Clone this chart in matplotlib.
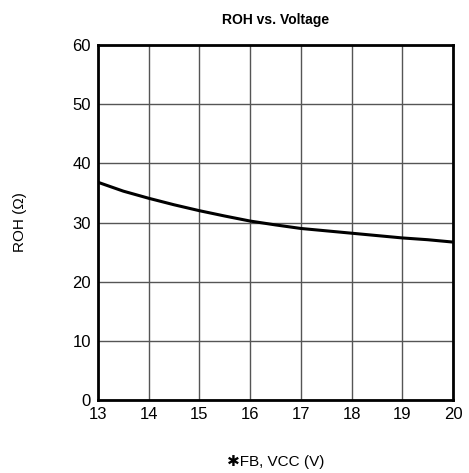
import numpy as np
import matplotlib
matplotlib.use("Agg")
import matplotlib.pyplot as plt

plt.rcParams['font.family'] = ['Liberation Sans', 'DejaVu Sans']

# curve
voltage = [13, 13.5, 14, 14.5, 15, 15.5, 16, 16.5, 17, 17.5, 18, 18.5, 19, 19.5, 20]
roh = [36.8, 35.3, 34.1, 33.0, 32.0, 31.1, 30.25, 29.6, 29.0, 28.6, 28.2, 27.8, 27.4, 27.1, 26.7]

xticks = [13, 14, 15, 16, 17, 18, 19, 20]
yticks = [0, 10, 20, 30, 40, 50, 60]

fig = plt.figure(figsize=(4.69, 4.73), dpi=100)
ax = fig.add_axes([0.209, 0.154, 0.757, 0.751])
ax.plot(voltage, roh, color='black', lw=2.2)
ax.set_xlim(13, 20)
ax.set_ylim(0, 60)
ax.set_xticks(xticks)
ax.set_yticks(yticks)
ax.grid(True, color='#555555', lw=1)
ax.tick_params(length=0, labelsize=12, pad=5)
for s in ax.spines.values():
    s.set_linewidth(2)
ax.set_title('ROH vs. Voltage', fontsize=10, fontweight='bold', pad=15)
ax.set_xlabel('\u2731FB, VCC (V)', fontsize=11, labelpad=24)
ax.set_ylabel('ROH (\u03a9)', fontsize=11, labelpad=33)
fig.savefig('out.png', dpi=100)
